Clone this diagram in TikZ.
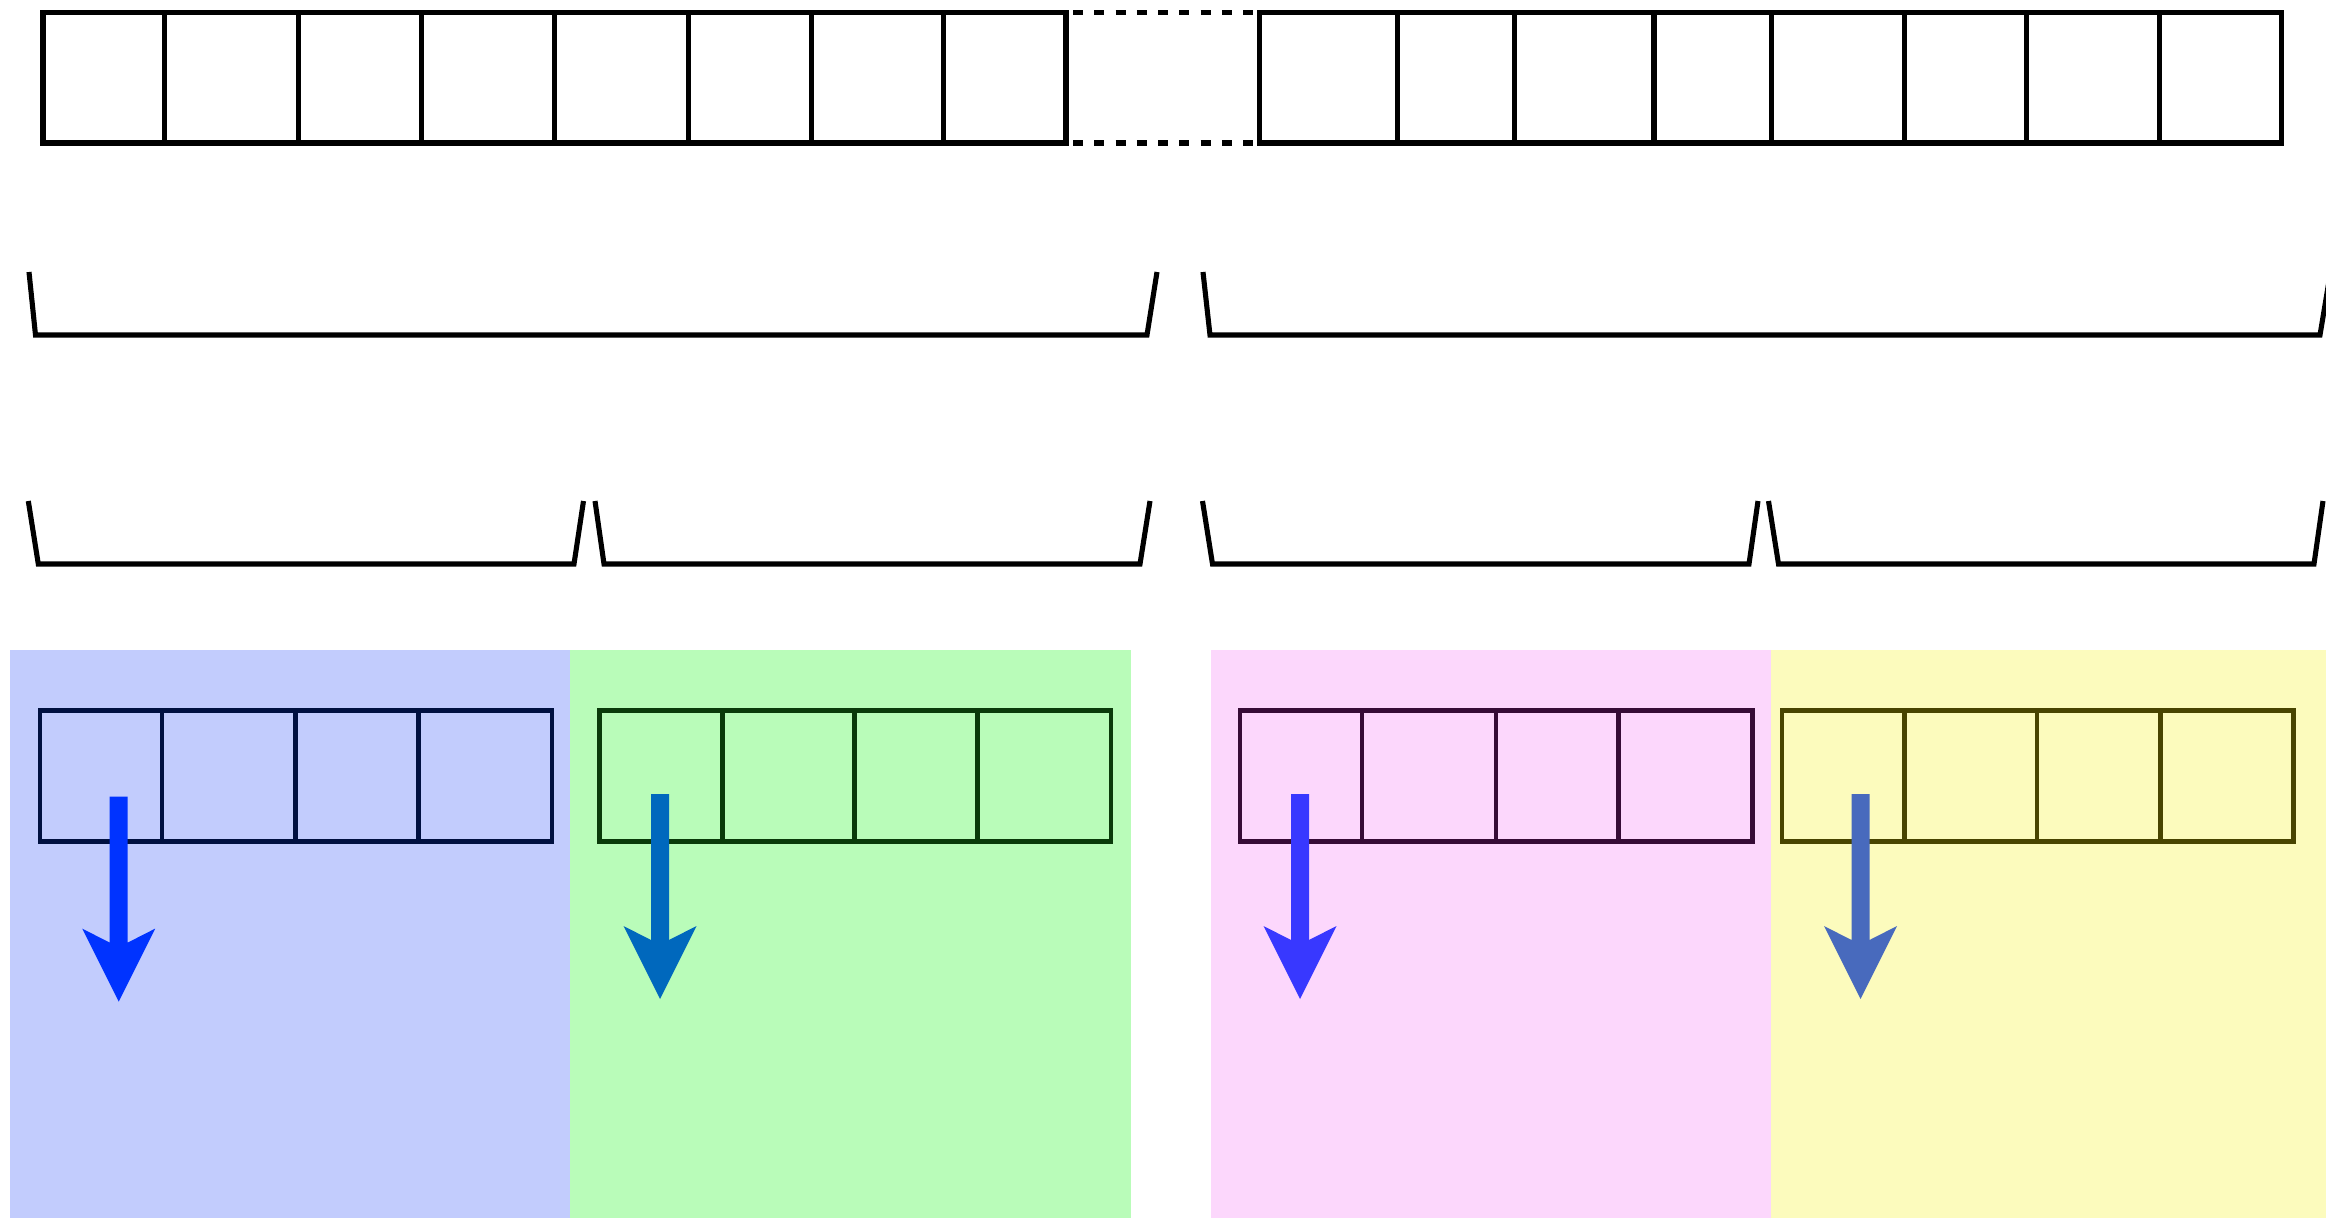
\documentclass[tikz,border=0pt]{standalone}
\definecolor{pblue}{RGB}{194,204,253}
\definecolor{pgreen}{RGB}{185,252,185}
\definecolor{ppink}{RGB}{252,215,252}
\definecolor{pyellow}{RGB}{252,251,189}
\definecolor{sblue}{RGB}{0,16,64}
\definecolor{sgreen}{RGB}{10,58,10}
\definecolor{spink}{RGB}{54,12,54}
\definecolor{syellow}{RGB}{72,68,0}
\definecolor{ablue}{RGB}{0,51,255}
\definecolor{agreen}{RGB}{0,104,189}
\definecolor{apink}{RGB}{56,56,255}
\definecolor{ayellow}{RGB}{72,106,189}
\begin{document}
\begin{tikzpicture}[x=0.01cm,y=-0.01cm,
  cellline/.style={line width=1.5pt, draw=black},
  dotline/.style={line width=1.5pt, draw=black, dash pattern=on 2.85pt off 3.2pt},
  brk/.style={line width=1.45pt, draw=black},
  inner/.style={line width=1.25pt},
  arr/.style={draw=none}]
\useasboundingbox (0,0) rectangle (2326,1218);
\fill[white] (0,0) rectangle (2326,1218);
% top row cells
\foreach \a/\b in {43/164.7,164.7/298.2,298.2/421.3,421.3/554.8,554.8/688.3,688.3/811.4,811.4/943.4,943.4/1066,
                   1259.4/1397.4,1397.4/1514.5,1514.5/1654,1654/1771.2,1771.2/1904.7,1904.7/2026.3,2026.3/2159.8,2159.8/2281.5}
  \draw[cellline] (\a,12.5) rectangle (\b,143);
% dotted continuation
\draw[dotline] (1073,12.5) -- (1253,12.5);
\draw[dotline] (1073,143) -- (1253,143);
% first bracket row
\draw[brk] (29,272) -- (35.5,335) -- (1147,335) -- (1157,272);
\draw[brk] (1203,272) -- (1210,335) -- (2320,335) -- (2330.5,272);
% second bracket row
\draw[brk] (28.3,501) -- (38.3,564) -- (574,564) -- (583.5,501);
\draw[brk] (595,501) -- (604,564) -- (1140,564) -- (1150,501);
\draw[brk] (1202.5,501) -- (1212.5,564) -- (1749,564) -- (1758,501);
\draw[brk] (1768.5,501) -- (1778.5,564) -- (2314,564) -- (2323,501);
% panels
\fill[pblue] (10,650) rectangle (570,1218);
\fill[pgreen] (570,650) rectangle (1130.5,1218);
\fill[ppink] (1211,650) rectangle (1771,1218);
\fill[pyellow] (1771,650) rectangle (2326,1218);
% inner cells
\foreach \a/\b in {40/162,162/295.5,295.5/418.5,418.5/552}
  \draw[inner, draw=sblue] (\a,710.5) rectangle (\b,841.5);
\foreach \a/\b in {599.3/722.4,722.4/854.4,854.4/977.6,977.6/1111}
  \draw[inner, draw=sgreen] (\a,710.5) rectangle (\b,841.5);
\foreach \a/\b in {1240/1362,1362/1496,1496/1618.6,1618.6/1752.3}
  \draw[inner, draw=spink] (\a,710.5) rectangle (\b,841.5);
\foreach \a/\b in {1781.7/1904.5,1904.5/2037.2,2037.2/2160.5,2160.5/2293.5}
  \draw[inner, draw=syellow] (\a,710.5) rectangle (\b,841.5);
% arrows
\foreach \cx/\yt/\col in {118.7/796.6/ablue, 660/794/agreen, 1300/794/apink, 1860.5/794/ayellow}
  \fill[\col] (\cx-9,\yt) -- (\cx+9,\yt) -- (\cx+9,\yt+146) -- (\cx+36.5,\yt+132)
     -- (\cx,\yt+205) -- (\cx-36.5,\yt+132) -- (\cx-9,\yt+146) -- cycle;
\end{tikzpicture}
\end{document}
